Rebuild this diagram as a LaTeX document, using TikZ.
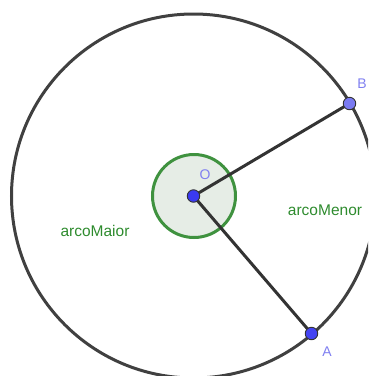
\documentclass[tikz,border=0pt]{standalone}
\usepackage{fontspec}
\setmainfont{Liberation Sans}
\begin{document}
\begin{tikzpicture}[x=1pt,y=-1pt,
  pt/.style={circle,draw=black!80,line width=0.9pt,inner sep=0pt,minimum size=12.5pt},
  ptlabel/.style={text=ptlab,font=\fontsize{14}{16}\selectfont,inner sep=0pt},
  arclabel/.style={text=arcgreen,font=\fontsize{15.5}{18}\selectfont,inner sep=0pt},
  seg/.style={draw=segcol,line width=3pt}]
\definecolor{circcol}{HTML}{404040}
\definecolor{segcol}{HTML}{333333}
\definecolor{arcgreen}{HTML}{2E8B2E}
\definecolor{greenline}{HTML}{3F923F}
\definecolor{greenfill}{HTML}{E6EDE6}
\definecolor{ptlab}{HTML}{7F7FF0}
\definecolor{blueO}{HTML}{3A3AF0}
\definecolor{blueA}{HTML}{4444F2}
\definecolor{blueB}{HTML}{7A7AF2}
\useasboundingbox (0,0) rectangle (368,376);
\begin{scope}
\clip (0,0) rectangle (368,376);
\draw[circcol,line width=3pt] (193.5,196) circle[radius=182];
\end{scope}
\draw[greenline,fill=greenfill,line width=3pt] (194,196) circle[radius=41.5];
\coordinate (Oc) at (193.5,196);
\coordinate (Ac) at (311.5,333.5);
\coordinate (Bc) at (349.5,103.5);
\draw[seg] (Oc) -- (Ac);
\draw[seg] (Oc) -- (Bc);
\node[pt,fill=blueO] (O) at (Oc) {};
\node[pt,fill=blueA] (A) at (Ac) {};
\node[pt,fill=blueB] (B) at (Bc) {};
\node[ptlabel] (lO) at (205,175) {O};
\node[ptlabel] (lB) at (362,84) {B};
\node[ptlabel] (lA) at (327,352) {A};
\node[arclabel] (maior) at (95,230.5) {arcoMaior};
\node[arclabel] (menor) at (325,210) {arcoMenor};
\end{tikzpicture}
\end{document}
